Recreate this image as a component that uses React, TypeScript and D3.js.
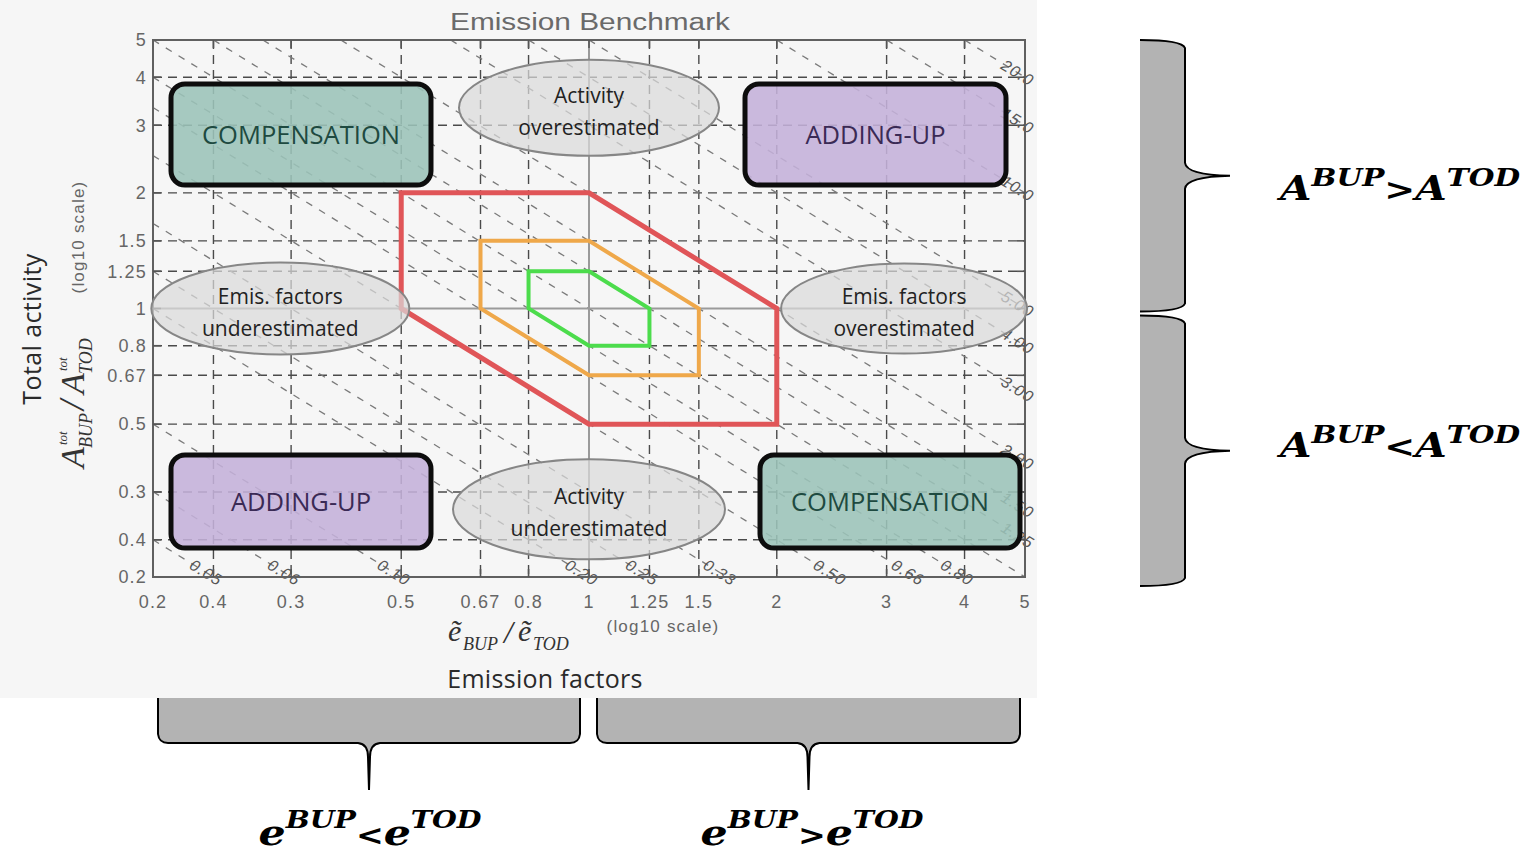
import React from "react";
import * as d3 from "d3";

// Axis ticks (ratio values) and the labels printed beside them
const xTicks = [0.2, 0.25, 0.333, 0.5, 0.67, 0.8, 1, 1.25, 1.5, 2, 3, 4, 5];
const xTickLabels = ["0.2", "0.4", "0.3", "0.5", "0.67", "0.8", "1", "1.25", "1.5", "2", "3", "4", "5"];
const yTicks = [0.2, 0.25, 0.333, 0.5, 0.67, 0.8, 1, 1.25, 1.5, 2, 3, 4, 5];
const yTickLabels = ["0.2", "0.4", "0.3", "0.5", "0.67", "0.8", "1", "1.25", "1.5", "2", "3", "4", "5"];

// Iso-emission lines: activity ratio x emission-factor ratio = constant
const isoProducts = [0.05, 0.0667, 0.1, 0.2, 0.25, 0.333, 0.5, 0.667, 0.8, 1, 1.25, 1.5, 2, 3, 4, 5, 10, 15, 20];
const isoLabels = ["0.05", "0.06", "0.10", "0.20", "0.25", "0.33", "0.50", "0.66", "0.80", "", "1.25", "1.50", "2.00", "3.00", "4.00", "5.00", "10.0", "15.0", "20.0"];

// Tolerance regions (emission-factor ratio, activity ratio)
const redRegion: [number, number][] = [[0.5, 2], [1, 2], [2, 1], [2, 0.5], [1, 0.5], [0.5, 1]];
const orangeRegion: [number, number][] = [[0.67, 1.5], [1, 1.5], [1.5, 1], [1.5, 0.67], [1, 0.67], [0.67, 1]];
const greenRegion: [number, number][] = [[0.8, 1.25], [1, 1.25], [1.25, 1], [1.25, 0.8], [1, 0.8], [0.8, 1]];

const DOMAIN: [number, number] = [0.2, 5];
const PLOT = { left: 153, right: 1025, top: 40, bottom: 577 };

const ellipses = [
  { cx: 1, cy: 3.33, rx: 130, ry: 48, lines: ["Activity", "overestimated"] },
  { cx: 0.32, cy: 1, rx: 129, ry: 46, lines: ["Emis. factors", "underestimated"] },
  { cx: 3.2, cy: 1, rx: 123, ry: 45, lines: ["Emis. factors", "overestimated"] },
  { cx: 1, cy: 0.3, rx: 136, ry: 50, lines: ["Activity", "underestimated"] },
];

const boxes = [
  { x0: 171, x1: 431, y0: 84, y1: 185, text: "COMPENSATION", kind: "comp" },
  { x0: 745, x1: 1006, y0: 84, y1: 185, text: "ADDING-UP", kind: "add" },
  { x0: 171, x1: 431, y0: 455, y1: 548, text: "ADDING-UP", kind: "add" },
  { x0: 760, x1: 1020, y0: 455, y1: 548, text: "COMPENSATION", kind: "comp" },
];

const BOX_STYLE: Record<string, { fill: string; text: string }> = {
  comp: { fill: "#9bc3b8", text: "#1e4a40" },
  add: { fill: "#c4b1d9", text: "#3a2a55" },
};

function vBrace(x0: number, xr: number, xt: number, y0: number, y1: number) {
  const ym = (y0 + y1) / 2;
  return `M${x0},${y0} Q${xr - 3},${y0} ${xr},${y0 + 8} L${xr},${ym - 13} Q${xr + 1},${ym - 1} ${xt},${ym} Q${xr + 1},${ym + 1} ${xr},${ym + 13} L${xr},${y1 - 8} Q${xr - 3},${y1} ${x0},${y1}`;
}

function hBrace(x0: number, x1: number, yTop: number, yb: number, yt: number) {
  const xm = (x0 + x1) / 2;
  return `M${x0},${yTop} L${x0},${yb - 9} Q${x0 + 1},${yb} ${x0 + 10},${yb} L${xm - 11},${yb} Q${xm - 1},${yb + 1} ${xm - 1},${yb + 14} L${xm},${yt} L${xm + 1},${yb + 14} Q${xm + 1},${yb + 1} ${xm + 11},${yb} L${x1 - 10},${yb} Q${x1 - 1},${yb} ${x1},${yb - 9} L${x1},${yTop}`;
}

export default function App() {
  const x = d3.scaleLog().domain(DOMAIN).range([PLOT.left, PLOT.right]);
  const y = d3.scaleLog().domain(DOMAIN).range([PLOT.bottom, PLOT.top]);
  const region = d3
    .line<[number, number]>()
    .x((d) => x(d[0]))
    .y((d) => y(d[1]))
    .curve(d3.curveLinearClosed);

  const iso = isoProducts.map((c, i) => {
    const xa = Math.max(DOMAIN[0], c / DOMAIN[1]);
    const xb = Math.min(DOMAIN[1], c / DOMAIN[0]);
    const p0 = [x(xa), y(c / xa)];
    const p1 = [x(xb), y(c / xb)];
    const ang = Math.atan2(p1[1] - p0[1], p1[0] - p0[0]);
    return { c, label: isoLabels[i], p0, p1, ang };
  });

  const tickFont = { fontFamily: "Liberation Sans, Arial, sans-serif", fontSize: 18, fill: "#666", letterSpacing: 1.2 };
  const gridTicks = (t: number) => t !== DOMAIN[0] && t !== DOMAIN[1];

  const yTop = y(DOMAIN[1]);
  const yOne = y(1);
  const yBot = y(DOMAIN[0]);

  return (
    <svg width={1536} height={857} style={{ position: "absolute", left: 0, top: 0, background: "#fff" }}>
      <rect x={0} y={0} width={1037} height={698} fill="#f6f6f6" />

      {/* dashed grid */}
      {xTicks.filter(gridTicks).map((t, i) =>
        t === 1 ? null : (
          <line key={"gx" + i} x1={x(t)} x2={x(t)} y1={PLOT.top} y2={PLOT.bottom} stroke="#4a4a4a" strokeWidth={1.4} strokeDasharray="9,6" />
        )
      )}
      {yTicks.filter(gridTicks).map((t, i) =>
        t === 1 ? null : (
          <line key={"gy" + i} y1={y(t)} y2={y(t)} x1={PLOT.left} x2={PLOT.right} stroke="#4a4a4a" strokeWidth={1.4} strokeDasharray="9,6" />
        )
      )}

      {/* iso-emission diagonals */}
      {iso.map((d, i) => (
        <line key={"iso" + i} x1={d.p0[0]} y1={d.p0[1]} x2={d.p1[0]} y2={d.p1[1]} stroke="#7a7a7a" strokeWidth={1.3} strokeDasharray="7,8" />
      ))}

      {/* unity cross */}
      <line x1={x(1)} x2={x(1)} y1={PLOT.top} y2={PLOT.bottom} stroke="#9a9a9a" strokeWidth={2} />
      <line y1={y(1)} y2={y(1)} x1={PLOT.left} x2={PLOT.right} stroke="#9a9a9a" strokeWidth={2} />

      {/* iso labels */}
      {iso.map((d, i) => {
        if (!d.label) return null;
        const lx = d.p1[0] + 9 * Math.cos(d.ang);
        const ly = d.p1[1] + 9 * Math.sin(d.ang);
        return (
          <text
            key={"isol" + i}
            transform={`translate(${lx},${ly}) rotate(${(d.ang * 180) / Math.PI})`}
            textAnchor="end"
            dy="0.35em"
            fontFamily="Liberation Sans, Arial, sans-serif"
            fontStyle="italic"
            fontSize={16}
            fill="#555"
            letterSpacing={1}
          >
            {d.label}
          </text>
        );
      })}

      {/* tolerance regions */}
      <path d={region(redRegion) || ""} fill="none" stroke="#e05558" strokeWidth={5} strokeLinejoin="miter" />
      <path d={region(orangeRegion) || ""} fill="none" stroke="#efa84a" strokeWidth={4} strokeLinejoin="miter" />
      <path d={region(greenRegion) || ""} fill="none" stroke="#4cdc4c" strokeWidth={4} strokeLinejoin="miter" />

      {/* frame and ticks */}
      <rect x={PLOT.left} y={PLOT.top} width={PLOT.right - PLOT.left} height={PLOT.bottom - PLOT.top} fill="none" stroke="#606060" strokeWidth={2} />
      {xTicks.filter(gridTicks).map((t, i) => (
        <g key={"xt" + i} stroke="#555" strokeWidth={1.6}>
          <line x1={x(t)} x2={x(t)} y1={PLOT.bottom} y2={PLOT.bottom - 8} />
          <line x1={x(t)} x2={x(t)} y1={PLOT.top} y2={PLOT.top + 8} />
        </g>
      ))}
      {yTicks.filter(gridTicks).map((t, i) => (
        <g key={"yt" + i} stroke="#555" strokeWidth={1.6}>
          <line y1={y(t)} y2={y(t)} x1={PLOT.left} x2={PLOT.left + 8} />
          <line y1={y(t)} y2={y(t)} x1={PLOT.right} x2={PLOT.right - 8} />
        </g>
      ))}

      {/* tick labels */}
      {xTicks.map((t, i) => (
        <text key={"xl" + i} x={x(t)} y={608} textAnchor="middle" {...tickFont}>
          {xTickLabels[i]}
        </text>
      ))}
      {yTicks.map((t, i) => (
        <text key={"yl" + i} x={147} y={y(t)} dy="0.35em" textAnchor="end" {...tickFont}>
          {yTickLabels[i]}
        </text>
      ))}

      {/* quadrant ellipses */}
      {ellipses.map((e, i) => (
        <g key={"el" + i}>
          <ellipse cx={x(e.cx)} cy={y(e.cy)} rx={e.rx} ry={e.ry} fill="#d9d9d9" fillOpacity={0.72} stroke="#868686" strokeWidth={2} />
          {e.lines.map((l, j) => (
            <text
              key={j}
              x={x(e.cx)}
              y={y(e.cy) - 5 + j * 32}
              textAnchor="middle"
              fontFamily="Open Sans, sans-serif"
              fontSize={21}
              fill="#222"
            >
              {l}
            </text>
          ))}
        </g>
      ))}

      {/* behaviour boxes */}
      {boxes.map((b, i) => (
        <g key={"bx" + i}>
          <rect x={b.x0} y={b.y0} width={b.x1 - b.x0} height={b.y1 - b.y0} rx={14} fill={BOX_STYLE[b.kind].fill} fillOpacity={0.88} stroke="#0d0d0d" strokeWidth={5} />
          <text
            x={(b.x0 + b.x1) / 2}
            y={(b.y0 + b.y1) / 2 + 9}
            textAnchor="middle"
            fontFamily="Open Sans, sans-serif"
            fontSize={25.5}
            fill={BOX_STYLE[b.kind].text}
          >
            {b.text}
          </text>
        </g>
      ))}

      {/* title */}
      <text x={590} y={30} textAnchor="middle" fontFamily="Liberation Sans, Arial, sans-serif" fontSize={23} fill="#6a6a6a" textLength={280} lengthAdjust="spacingAndGlyphs">
        Emission  Benchmark
      </text>

      {/* y-axis titles */}
      <text transform="translate(41,329) rotate(-90)" textAnchor="middle" fontFamily="Open Sans, sans-serif" fontSize={25} fill="#2a2a2a" letterSpacing={0.4}>
        Total activity
      </text>
      <g transform="translate(84,388) rotate(-90)" fontFamily="Liberation Serif, serif" fontStyle="italic" fill="#333">
        <text x={-80} y={0} fontSize={34}>A</text>
        <text x={-57} y={-17} fontSize={13}>tot</text>
        <text x={-60} y={8} fontSize={18}>BUP</text>
        <text x={-22} y={0} fontSize={36}>/</text>
        <text x={-6} y={0} fontSize={34}>A</text>
        <text x={17} y={-17} fontSize={13}>tot</text>
        <text x={14} y={8} fontSize={18}>TOD</text>
      </g>
      <text transform="translate(84,237) rotate(-90)" textAnchor="middle" fontFamily="Liberation Sans, Arial, sans-serif" fontSize={17} fill="#666" letterSpacing={1.2}>
        (log10  scale)
      </text>

      {/* x-axis titles */}
      <g fontFamily="Liberation Serif, serif" fontStyle="italic" fill="#333">
        <text x={448} y={641} fontSize={30}>ẽ</text>
        <text x={463} y={650} fontSize={18}>BUP</text>
        <text x={504} y={643} fontSize={32}>/</text>
        <text x={518} y={641} fontSize={30}>ẽ</text>
        <text x={533} y={650} fontSize={18}>TOD</text>
      </g>
      <text x={663} y={632} textAnchor="middle" fontFamily="Liberation Sans, Arial, sans-serif" fontSize={17} fill="#666" letterSpacing={1.2}>
        (log10  scale)
      </text>
      <text x={545} y={688} textAnchor="middle" fontFamily="Open Sans, sans-serif" fontSize={25} fill="#2a2a2a" letterSpacing={0.3}>
        Emission factors
      </text>

      {/* side braces for activity */}
      {[
        [yTop, yOne + 3],
        [yOne + 7, yBot + 9],
      ].map(([a, b], i) => (
        <g key={"vb" + i}>
          <path d={vBrace(1140, 1185, 1230, a, b) + " Z"} fill="#b3b3b3" />
          <path d={vBrace(1140, 1185, 1230, a, b)} fill="none" stroke="#000" strokeWidth={2} />
        </g>
      ))}
      <text x={1280} y={200} fontFamily="DejaVu Serif, serif" fontWeight="bold" fontStyle="italic" fontSize={33} fill="#000" textLength={240} lengthAdjust="spacingAndGlyphs">
        A<tspan fontSize={24} dy={-14}>BUP</tspan>
        <tspan fontFamily="DejaVu Sans, sans-serif" fontStyle="normal" fontSize={30} dy={14}>&gt;</tspan>A
        <tspan fontSize={24} dy={-14}>TOD</tspan>
      </text>
      <text x={1280} y={457} fontFamily="DejaVu Serif, serif" fontWeight="bold" fontStyle="italic" fontSize={33} fill="#000" textLength={240} lengthAdjust="spacingAndGlyphs">
        A<tspan fontSize={24} dy={-14}>BUP</tspan>
        <tspan fontFamily="DejaVu Sans, sans-serif" fontStyle="normal" fontSize={30} dy={14}>&lt;</tspan>A
        <tspan fontSize={24} dy={-14}>TOD</tspan>
      </text>

      {/* bottom braces for emission factors */}
      {[
        [x(DOMAIN[0]) + 5, x(1) - 9],
        [x(1) + 8, x(DOMAIN[1]) - 5],
      ].map(([a, b], i) => (
        <g key={"hb" + i}>
          <path d={hBrace(a, b, 698, 743, 790) + " Z"} fill="#b3b3b3" />
          <path d={hBrace(a, b, 698, 743, 790)} fill="none" stroke="#000" strokeWidth={2} />
        </g>
      ))}
      <text x={370} y={845} textAnchor="middle" fontFamily="DejaVu Serif, serif" fontWeight="bold" fontStyle="italic" fontSize={36} fill="#000" textLength={223} lengthAdjust="spacingAndGlyphs">
        e<tspan fontSize={24} dy={-17}>BUP</tspan>
        <tspan fontFamily="DejaVu Sans, sans-serif" fontStyle="normal" fontSize={28} dy={17}>&lt;</tspan>e
        <tspan fontSize={24} dy={-17}>TOD</tspan>
      </text>
      <text x={812} y={845} textAnchor="middle" fontFamily="DejaVu Serif, serif" fontWeight="bold" fontStyle="italic" fontSize={36} fill="#000" textLength={223} lengthAdjust="spacingAndGlyphs">
        e<tspan fontSize={24} dy={-17}>BUP</tspan>
        <tspan fontFamily="DejaVu Sans, sans-serif" fontStyle="normal" fontSize={28} dy={17}>&gt;</tspan>e
        <tspan fontSize={24} dy={-17}>TOD</tspan>
      </text>
    </svg>
  );
}
